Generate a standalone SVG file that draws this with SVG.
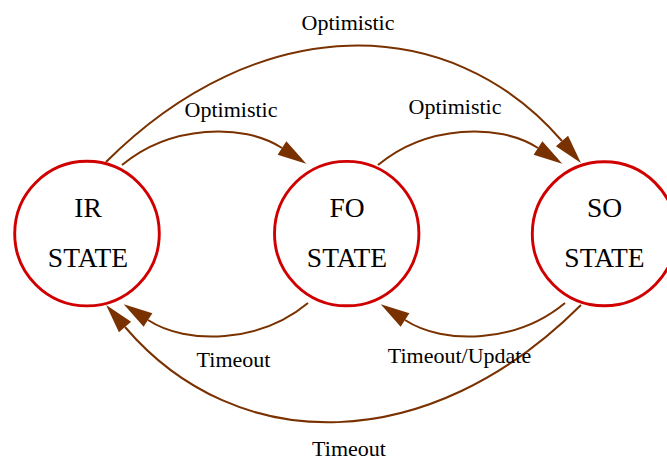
<svg xmlns="http://www.w3.org/2000/svg" width="667" height="462" viewBox="0 0 667 462">
  <style>
    .state circle { fill: #ffffff; stroke: #d00000; stroke-width: 2.9; }
    .state text { font-family: "Liberation Serif", "Times New Roman", serif; font-size: 27.5px; fill: #000000; text-anchor: middle; }
    .edge path { fill: none; stroke: #7a3100; stroke-width: 2; marker-end: url(#arrow); }
    .label { font-family: "Liberation Serif", "Times New Roman", serif; font-size: 22px; fill: #000000; text-anchor: middle; }
  </style>
  <defs>
    <marker id="arrow" markerUnits="userSpaceOnUse" markerWidth="30" markerHeight="18" refX="0" refY="8" orient="auto" overflow="visible">
      <path d="M0,0 L29,8 L0,16 Z" fill="#7a3100"/>
    </marker>
  </defs>
  <rect width="667" height="462" fill="#ffffff"/>

  <g id="connectors">
    <g class="edge" id="ir-fo">
      <path d="M122,165 C170,125 243,122.5 282,148"/>
    </g>
    <g class="edge" id="fo-so">
      <path d="M378,165 C426,125 499,122.5 538,148"/>
    </g>
    <g class="edge" id="ir-so">
      <path d="M106,162 C258,10 450,11 562,141"/>
    </g>
    <g class="edge" id="fo-ir">
      <path d="M308,303 C260,343 187,345.5 148,320"/>
    </g>
    <g class="edge" id="so-fo">
      <path d="M565,303 C517,343 444,345.5 405,320"/>
    </g>
    <g class="edge" id="so-ir">
      <path d="M581,305 C429,457 237,458 125,327"/>
    </g>
    <text class="label" x="348" y="29.5">Optimistic</text>
    <text class="label" x="231" y="117">Optimistic</text>
    <text class="label" x="455" y="114">Optimistic</text>
    <text class="label" x="233.5" y="367">Timeout</text>
    <text class="label" x="459.5" y="363">Timeout/Update</text>
    <text class="label" x="349" y="455.5">Timeout</text>
  </g>

  <g class="state" id="ir">
    <circle cx="87" cy="233.6" r="72.3"/>
    <text x="88" y="216.7">IR</text>
    <text x="88" y="267.3">STATE</text>
  </g>
  <g class="state" id="fo">
    <circle cx="346.7" cy="233.6" r="72.2"/>
    <text x="347" y="216.7">FO</text>
    <text x="347" y="267.3">STATE</text>
  </g>
  <g class="state" id="so">
    <circle cx="604.3" cy="233.8" r="72"/>
    <text x="604.5" y="216.7">SO</text>
    <text x="604.5" y="267.3">STATE</text>
  </g>
</svg>
